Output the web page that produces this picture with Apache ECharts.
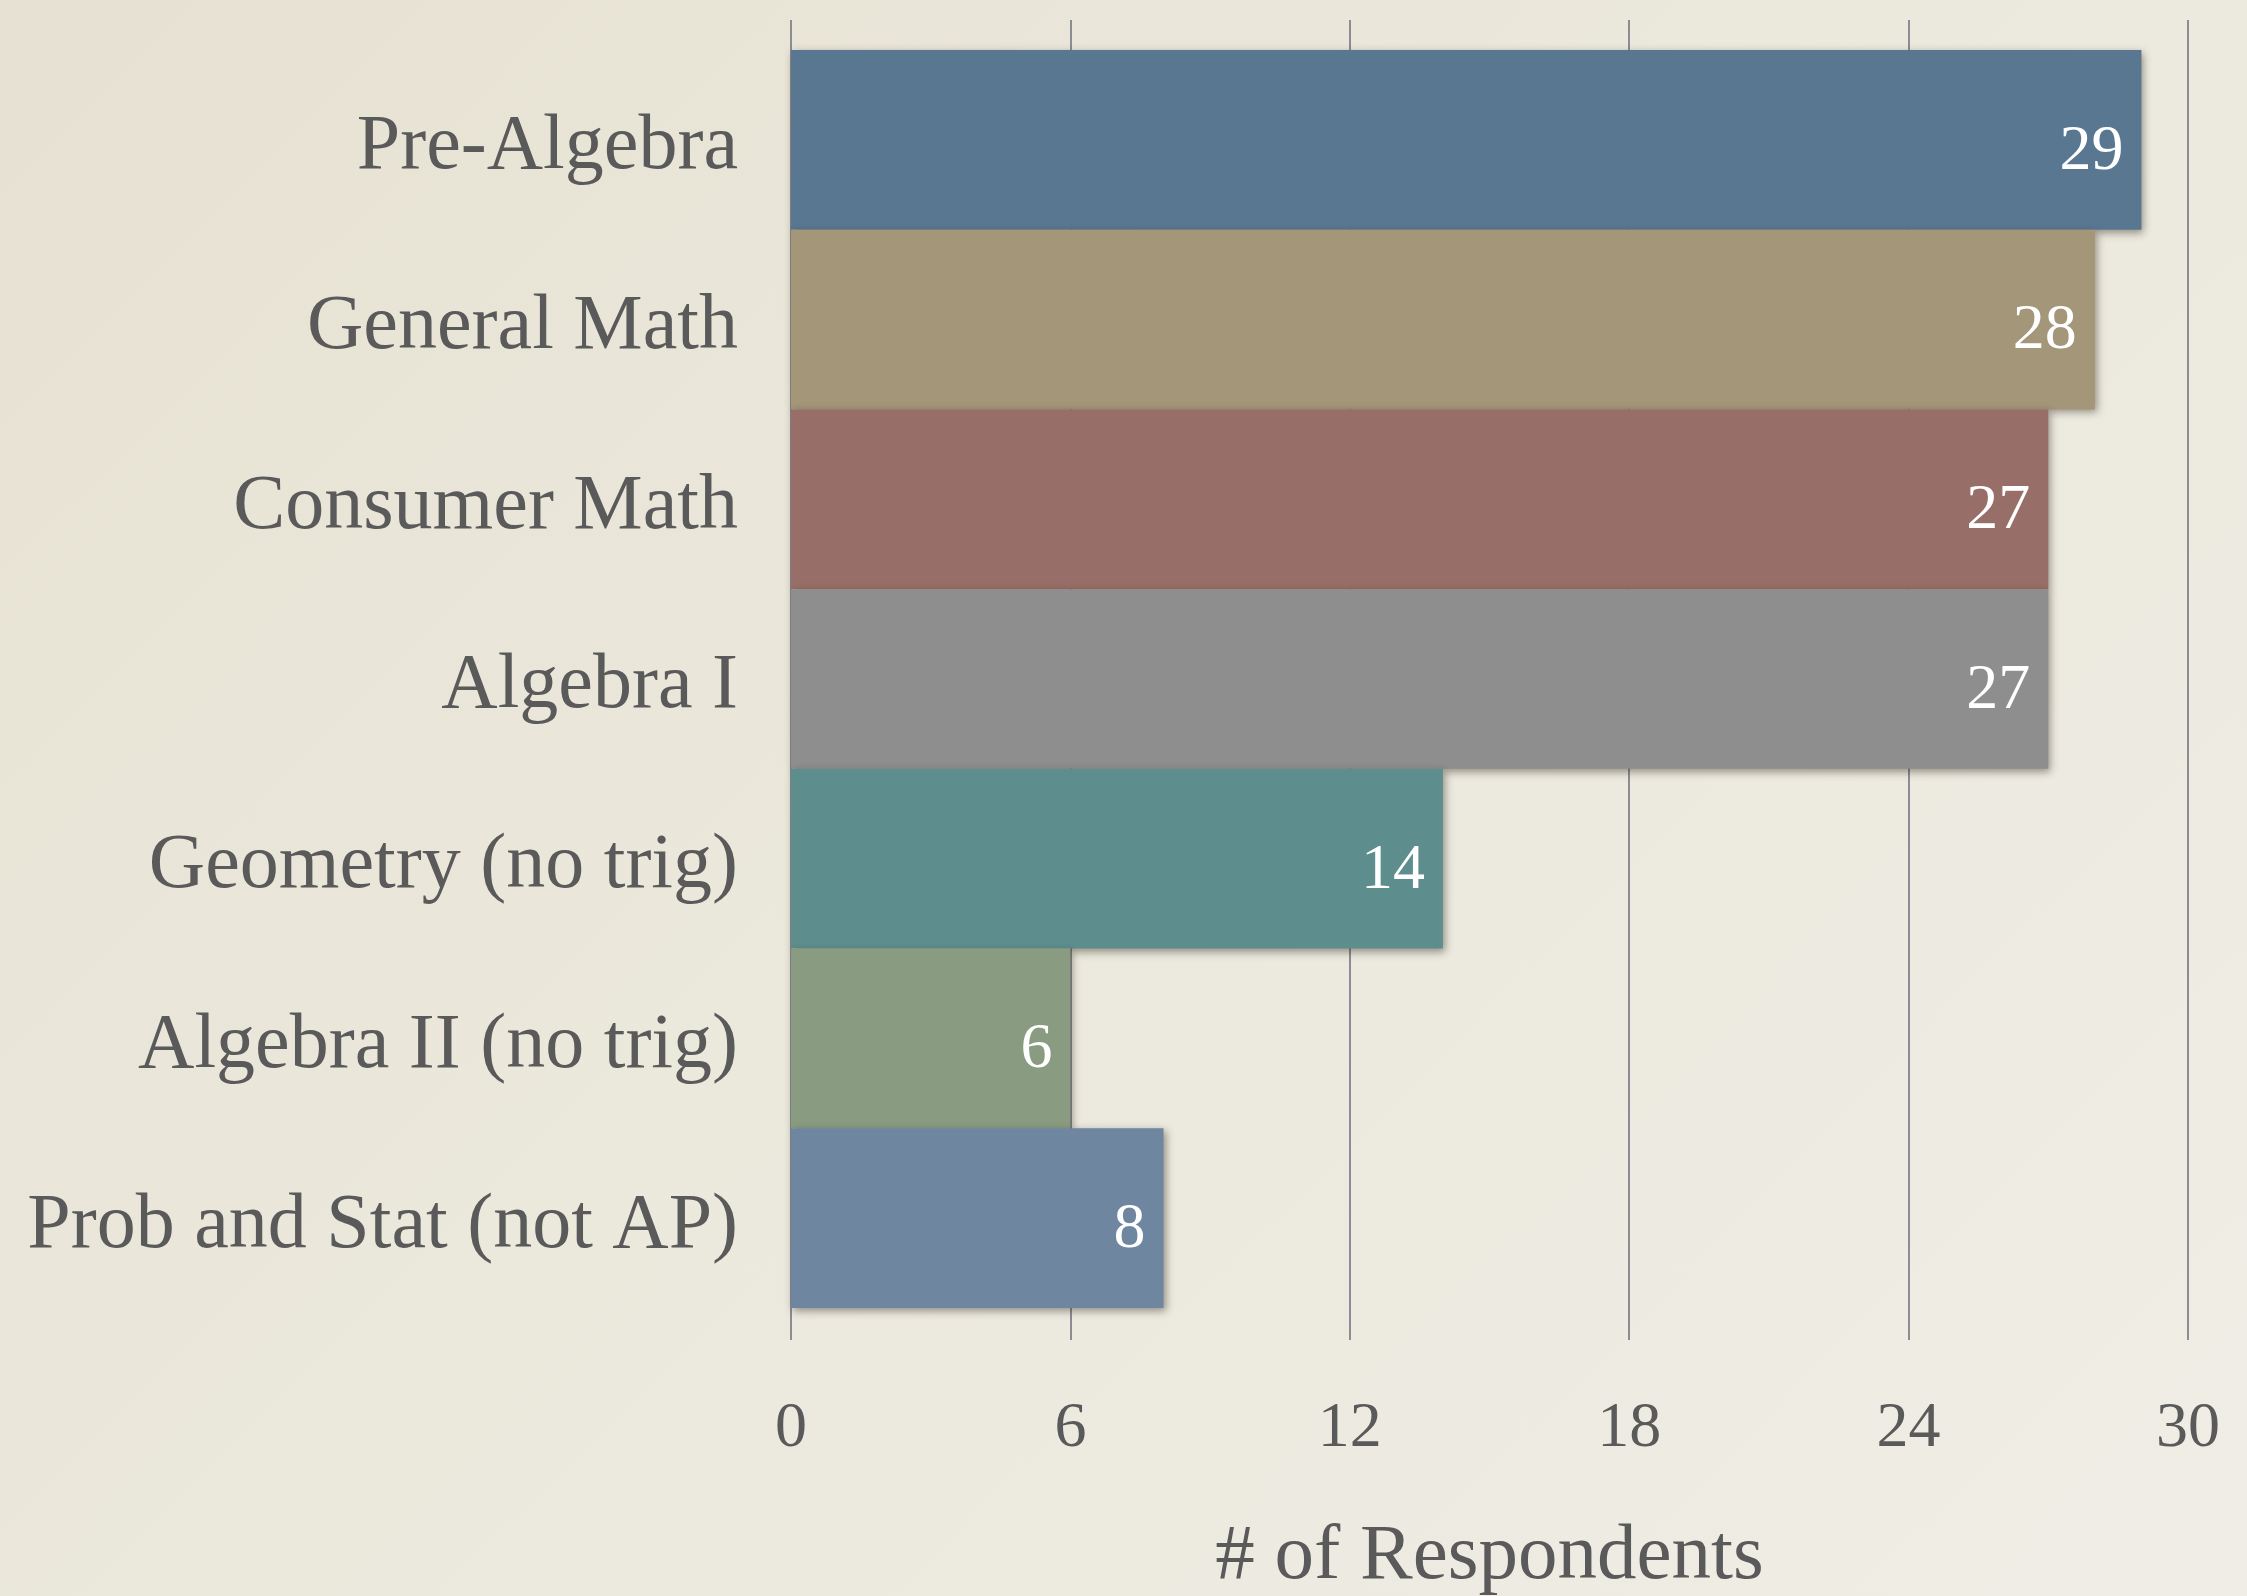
<!DOCTYPE html>
<html>
<head>
<meta charset="utf-8">
<style>
  html, body { margin: 0; padding: 0; }
  body {
    width: 2247px; height: 1596px; overflow: hidden;
    background: linear-gradient(135deg, #e6e1d2 0%, #ebe8dc 45%, #efede5 100%);
  }
  #chart { width: 2247px; height: 1596px; }
</style>
<script src="https://cdn.jsdelivr.net/npm/echarts@6/dist/echarts.min.js"></script>
</head>
<body>
<div id="chart"></div>
<script>
// courses, top to bottom
var courses = ["Pre-Algebra", "General Math", "Consumer Math", "Algebra I",
  "Geometry (no trig)", "Algebra II (no trig)", "Prob and Stat (not AP)"];
var respondents = [29, 28, 27, 27, 14, 6, 8];
var barColors = ["#5a7792", "#a39679", "#986f68", "#8e8e8e", "#5d8d8d", "#899c82", "#6e86a0"];
var xTicks = [0, 6, 12, 18, 24, 30];

var fontFam = "'Liberation Serif', 'DejaVu Serif', serif";
var myChart = echarts.init(document.getElementById("chart"));

var option = {
  backgroundColor: "transparent",
  animation: false,
  grid: [
    // bars
    { left: 791, right: 59, top: 50, bottom: 288, outerBoundsMode: "none" },
    // gridlines + tick labels (lines run a bit past the bars)
    { left: 791, right: 59, top: 20, bottom: 256, outerBoundsMode: "none" }
  ],
  xAxis: [
    {
      gridIndex: 0,
      type: "value",
      min: xTicks[0],
      max: xTicks[xTicks.length - 1],
      interval: 6,
      show: false
    },
    {
      gridIndex: 1,
      type: "value",
      min: xTicks[0],
      max: xTicks[xTicks.length - 1],
      interval: 6,
      axisLine: { show: false },
      axisTick: { show: false },
      splitLine: { show: true, lineStyle: { color: "#8c8c94", width: 2 } },
      axisLabel: {
        color: "#5a5a5a",
        fontFamily: fontFam,
        fontSize: 64,
        margin: 57
      },
      name: "# of Respondents",
      nameLocation: "middle",
      nameGap: 178,
      nameTextStyle: { color: "#5a5a5a", fontFamily: fontFam, fontSize: 79 }
    }
  ],
  yAxis: [
    {
      gridIndex: 0,
      type: "category",
      inverse: true,
      data: courses,
      axisLine: { show: false },
      axisTick: { show: false },
      splitLine: { show: false },
      axisLabel: {
        color: "#5a5a5a",
        fontFamily: fontFam,
        fontSize: 78,
        margin: 53,
        verticalAlign: "top",
        lineHeight: 16
      }
    },
    { gridIndex: 1, type: "value", show: false, min: 0, max: 1 }
  ],
  series: [
    {
      type: "bar",
      xAxisIndex: 0,
      yAxisIndex: 0,
      barCategoryGap: "0%",
      z: 5,
      data: respondents.map(function (v, i) {
        return { value: v, itemStyle: { color: barColors[i] } };
      }),
      itemStyle: {
        shadowBlur: 8,
        shadowColor: "rgba(40,30,20,0.45)",
        shadowOffsetX: 2,
        shadowOffsetY: 3
      },
      label: {
        show: true,
        position: "insideRight",
        distance: 18,
        color: "#ffffff",
        fontFamily: fontFam,
        fontSize: 64,
        offset: [0, 12]
      }
    }
  ]
};
myChart.setOption(option);
</script>
</body>
</html>
